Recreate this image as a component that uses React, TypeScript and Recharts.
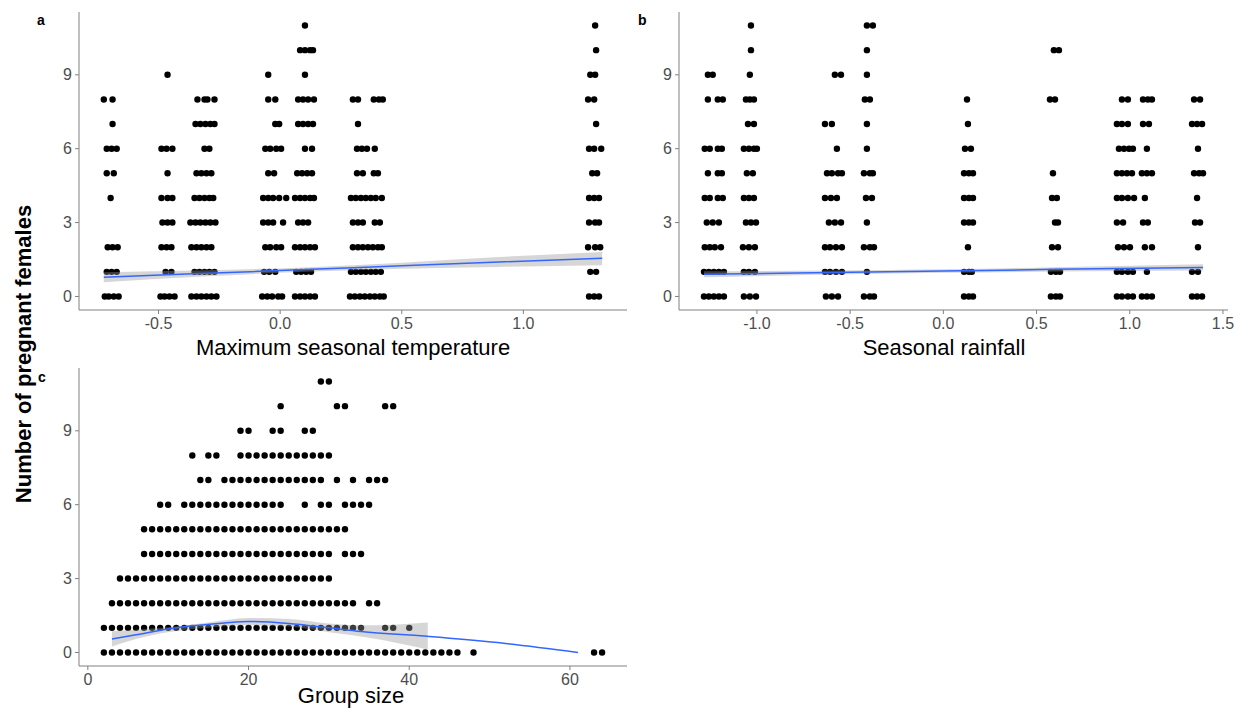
import { ComposedChart, Scatter, Line, Area, XAxis, YAxis } from "recharts";

// panel a: number of pregnant females (y) against jittered max seasonal temperature (x)
const tempRows: [number, number[]][] = [
  [11, [0.102, 1.295]],
  [10, [0.082, 0.102, 0.123, 0.135, 1.299]],
  [9, [-0.463, -0.049, 0.102, 1.275, 1.295]],
  [8, [-0.725, -0.689, -0.34, -0.311, -0.299, -0.27, -0.049, -0.02, 0.074, 0.094, 0.115, 0.139, 0.299, 0.32, 0.385, 0.406, 0.422, 1.266, 1.291]],
  [7, [-0.689, -0.348, -0.328, -0.307, -0.287, -0.27, -0.02, -0.004, 0.074, 0.094, 0.115, 0.135, 0.32, 1.299]],
  [6, [-0.713, -0.693, -0.672, -0.488, -0.467, -0.443, -0.311, -0.291, -0.061, -0.041, -0.016, 0.004, 0.102, 0.131, 0.316, 0.336, 0.357, 0.389, 1.27, 1.291, 1.32]],
  [5, [-0.713, -0.684, -0.463, -0.344, -0.324, -0.303, -0.283, -0.049, -0.025, 0.07, 0.09, 0.111, 0.131, 0.316, 0.34, 0.385, 0.402, 1.283, 1.303]],
  [4, [-0.697, -0.488, -0.463, -0.443, -0.352, -0.332, -0.311, -0.291, -0.275, -0.07, -0.049, -0.029, -0.004, 0.025, 0.061, 0.082, 0.102, 0.123, 0.139, 0.291, 0.311, 0.332, 0.352, 0.373, 0.393, 0.418, 1.27, 1.291, 1.311]],
  [3, [-0.484, -0.463, -0.443, -0.369, -0.348, -0.328, -0.307, -0.287, -0.266, -0.07, -0.049, -0.029, 0.012, 0.074, 0.094, 0.115, 0.299, 0.32, 0.34, 0.389, 0.41, 1.27, 1.295, 1.311]],
  [2, [-0.709, -0.689, -0.668, -0.488, -0.467, -0.447, -0.365, -0.344, -0.324, -0.303, -0.283, -0.061, -0.041, -0.016, 0.004, 0.061, 0.082, 0.102, 0.123, 0.143, 0.299, 0.32, 0.34, 0.361, 0.381, 0.402, 0.418, 1.266, 1.295, 1.316]],
  [1, [-0.713, -0.693, -0.672, -0.471, -0.447, -0.352, -0.332, -0.311, -0.291, -0.27, -0.066, -0.045, -0.02, 0.066, 0.086, 0.107, 0.127, 0.291, 0.311, 0.332, 0.352, 0.373, 0.393, 0.414, 1.275, 1.299]],
  [0, [-0.721, -0.705, -0.684, -0.664, -0.492, -0.475, -0.455, -0.434, -0.365, -0.344, -0.324, -0.303, -0.283, -0.262, -0.074, -0.053, -0.033, -0.008, 0.008, 0.061, 0.082, 0.102, 0.123, 0.143, 0.287, 0.307, 0.328, 0.348, 0.369, 0.389, 0.41, 0.426, 1.27, 1.291, 1.311]],
];
const tempFitX = [-0.725, -0.3, 0.1, 0.5, 0.9, 1.324];
const tempFit = [0.78, 0.94, 1.09, 1.25, 1.4, 1.55];
const tempLo = [0.58, 0.82, 1.0, 1.13, 1.2, 1.27];
const tempHi = [0.98, 1.06, 1.18, 1.37, 1.6, 1.8];

// panel b: seasonal rainfall
const rainRows: [number, number[]][] = [
  [11, [-1.032, -0.41, -0.378]],
  [10, [-1.032, -0.41, 0.593, 0.62]],
  [9, [-1.263, -1.237, -1.038, -0.582, -0.549, -0.41]],
  [8, [-1.263, -1.21, -1.183, -1.059, -1.038, -1.016, -0.421, -0.394, 0.127, 0.572, 0.599, 0.958, 0.99, 1.071, 1.097, 1.119, 1.345, 1.377]],
  [7, [-1.048, -1.016, -0.635, -0.598, -0.41, 0.132, 0.931, 0.958, 0.99, 1.071, 1.103, 1.334, 1.361, 1.388]],
  [6, [-1.28, -1.253, -1.21, -1.188, -1.07, -1.043, -1.016, -1.0, -0.571, -0.41, 0.116, 0.148, 0.942, 0.969, 0.996, 1.017, 1.092, 1.366]],
  [5, [-1.263, -1.21, -1.188, -1.054, -1.022, -0.624, -0.598, -0.565, -0.544, -0.426, -0.394, -0.378, 0.111, 0.137, 0.159, 0.588, 0.931, 0.958, 0.985, 1.012, 1.065, 1.092, 1.119, 1.345, 1.372, 1.393]],
  [4, [-1.28, -1.253, -1.21, -1.183, -1.07, -1.043, -1.016, -0.635, -0.603, -0.571, -0.415, -0.383, 0.111, 0.137, 0.159, 0.583, 0.609, 0.931, 0.958, 0.99, 1.023, 1.081, 1.361]],
  [3, [-1.269, -1.237, -1.204, -1.059, -1.032, -1.005, -0.614, -0.582, -0.549, -0.41, 0.111, 0.137, 0.159, 0.599, 0.615, 0.931, 0.964, 1.071, 1.097, 1.35, 1.377]],
  [2, [-1.28, -1.253, -1.226, -1.193, -1.075, -1.043, -1.011, -0.635, -0.608, -0.576, -0.544, -0.426, -0.394, -0.372, 0.132, 0.583, 0.615, 0.937, 0.969, 1.001, 1.081, 1.119, 1.366]],
  [1, [-1.284, -1.258, -1.231, -1.204, -1.177, -1.07, -1.043, -1.011, -0.635, -0.608, -0.576, -0.544, -0.41, 0.111, 0.137, 0.153, 0.577, 0.604, 0.626, 0.931, 0.958, 0.99, 1.017, 1.092, 1.334, 1.366]],
  [0, [-1.284, -1.258, -1.231, -1.204, -1.177, -1.07, -1.038, -1.005, -0.63, -0.598, -0.565, -0.426, -0.394, -0.372, 0.111, 0.137, 0.159, 0.577, 0.604, 0.626, 0.931, 0.958, 0.99, 1.017, 1.065, 1.092, 1.119, 1.334, 1.361, 1.388]],
];
const rainFitX = [-1.284, -0.6, 0, 0.6, 1.393];
const rainFit = [0.9, 0.97, 1.03, 1.1, 1.18];
const rainLo = [0.78, 0.89, 0.96, 1.01, 1.05];
const rainHi = [1.02, 1.05, 1.1, 1.19, 1.31];

// panel c: group size
const groupRows: [number, number[]][] = [
  [11, [29, 30]],
  [10, [24, 31, 32, 37, 38]],
  [9, [19, 20, 23, 24, 27, 28]],
  [8, [13, 15, 16, 19, 20, 21, 22, 23, 24, 25, 26, 27, 28, 29, 30]],
  [7, [14, 15, 17, 18, 19, 20, 21, 22, 23, 24, 25, 26, 27, 28, 29, 31, 33, 35, 36, 37]],
  [6, [9, 10, 12, 13, 14, 15, 16, 17, 18, 19, 20, 21, 22, 23, 24, 27, 29, 30, 32, 33, 34, 35]],
  [5, [7, 8, 9, 10, 11, 12, 13, 14, 15, 16, 17, 18, 19, 20, 21, 22, 23, 24, 25, 26, 27, 28, 29, 30, 31, 32]],
  [4, [7, 8, 9, 10, 11, 12, 13, 14, 15, 16, 17, 18, 19, 20, 21, 22, 23, 24, 25, 26, 27, 28, 29, 30, 32, 33, 34]],
  [3, [4, 5, 6, 7, 8, 9, 10, 11, 12, 13, 14, 15, 16, 17, 18, 19, 20, 21, 22, 23, 24, 25, 26, 27, 28, 29, 30]],
  [2, [3, 4, 5, 6, 7, 8, 9, 10, 11, 12, 13, 14, 15, 16, 17, 18, 19, 20, 21, 22, 23, 24, 25, 26, 27, 28, 29, 30, 31, 32, 33, 35, 36]],
  [1, [2, 3, 4, 5, 6, 7, 8, 9, 10, 11, 12, 13, 14, 15, 16, 17, 18, 19, 20, 21, 22, 23, 24, 25, 26, 27, 28, 29, 30, 31, 32, 33, 34, 37, 38, 40]],
  [0, [2, 3, 4, 5, 6, 7, 8, 9, 10, 11, 12, 13, 14, 15, 16, 17, 18, 19, 20, 21, 22, 23, 24, 25, 26, 27, 28, 29, 30, 31, 32, 33, 34, 35, 36, 37, 38, 39, 40, 41, 42, 43, 44, 45, 46, 48, 63, 64]],
];
const groupFitX = [3, 6, 10, 13, 17, 20, 25, 30, 34, 42.5, 51, 61];
const groupFit = [0.55, 0.72, 0.95, 1.08, 1.2, 1.26, 1.18, 1.0, 0.85, 0.65, 0.4, 0.0];
const groupBandX = [3, 6, 10, 15, 20, 25, 30, 35, 42.3];
const groupLo = [0.24, 0.55, 0.82, 1.0, 1.1, 1.05, 0.82, 0.6, 0.12];
const groupHi = [0.86, 0.92, 1.02, 1.22, 1.4, 1.36, 1.18, 1.1, 1.22];

const yTicks = [0, 3, 6, 9];

const axisColor = "#808080";
const tickStyle = { fill: "#4d4d4d", fontSize: 16, fontFamily: "Liberation Sans, Arial, sans-serif" };

const Dot = (p: any) => <circle cx={p.cx} cy={p.cy} r={3.2} fill="#000" />;

type PanelProps = {
  left: number; top: number; width: number; height: number;
  margin: { top: number; right: number; bottom: number; left: number };
  rows: [number, number[]][];
  fitX: number[]; fit: number[];
  bandX: number[]; lo: number[]; hi: number[];
  xDomain: [number, number]; xTicks: number[]; decimals: number;
  xAxisHeight: number;
};

function Panel(props: PanelProps) {
  const points = props.rows.flatMap(([y, xs]) => xs.map((x) => ({ x, y })));
  const fitData = props.fitX.map((x, i) => ({ x, fit: props.fit[i] }));
  const bandData = props.bandX.map((x, i) => ({ x, band: [props.lo[i], props.hi[i]] }));
  return (
    <div style={{ position: "absolute", left: props.left, top: props.top }}>
      <ComposedChart width={props.width} height={props.height} margin={props.margin}>
        <XAxis
          type="number"
          dataKey="x"
          domain={props.xDomain}
          ticks={props.xTicks}
          allowDataOverflow
          tickFormatter={(v: number) => v.toFixed(props.decimals)}
          height={props.xAxisHeight}
          tick={tickStyle}
          tickSize={4}
          tickMargin={4}
          stroke={axisColor}
          tickLine={{ stroke: axisColor }}
        />
        <YAxis
          type="number"
          dataKey="y"
          domain={[-0.55, 11.55]}
          ticks={yTicks}
          allowDataOverflow
          width={79}
          tick={tickStyle}
          tickSize={4}
          tickMargin={3}
          stroke={axisColor}
          tickLine={{ stroke: axisColor }}
        />
        <Scatter data={points} shape={Dot} isAnimationActive={false} />
        <Area
          data={bandData}
          dataKey="band"
          type="monotone"
          stroke="none"
          fill="#999999"
          fillOpacity={0.4}
          dot={false}
          activeDot={false}
          isAnimationActive={false}
          zIndex={650}
        />
        <Line
          data={fitData}
          dataKey="fit"
          type="monotone"
          stroke="#3366FF"
          strokeWidth={1.5}
          dot={false}
          activeDot={false}
          isAnimationActive={false}
          zIndex={700}
        />
      </ComposedChart>
    </div>
  );
}

export default function App() {
  const font = "Liberation Sans, Arial, sans-serif";
  return (
    <div style={{ position: "absolute", left: 0, top: 0, width: 1238, height: 710, background: "#fff", overflow: "hidden" }}>
      <Panel
        left={0} top={0} width={640} height={360}
        margin={{ top: 12, right: 13, bottom: 0, left: 0 }}
        rows={tempRows} fitX={tempFitX} fit={tempFit} bandX={tempFitX} lo={tempLo} hi={tempHi}
        xDomain={[-0.827, 1.426]} xTicks={[-0.5, 0, 0.5, 1.0]} decimals={1} xAxisHeight={50}
      />
      <Panel
        left={600} top={0} width={638} height={360}
        margin={{ top: 12, right: 10, bottom: 0, left: 0 }}
        rows={rainRows} fitX={rainFitX} fit={rainFit} bandX={rainFitX} lo={rainLo} hi={rainHi}
        xDomain={[-1.418, 1.527]} xTicks={[-1.0, -0.5, 0, 0.5, 1.0, 1.5]} decimals={1} xAxisHeight={50}
      />
      <Panel
        left={0} top={356} width={640} height={354}
        margin={{ top: 12, right: 13, bottom: 0, left: 0 }}
        rows={groupRows} fitX={groupFitX} fit={groupFit} bandX={groupBandX} lo={groupLo} hi={groupHi}
        xDomain={[-1.1, 67.1]} xTicks={[0, 20, 40, 60]} decimals={0} xAxisHeight={44}
      />
      <svg width={1238} height={710} style={{ position: "absolute", left: 0, top: 0, pointerEvents: "none" }}>
        <g fontFamily={font}>
          <text x={37} y={25} fontSize={14} fontWeight="bold" fill="#000">a</text>
          <text x={638} y={25} fontSize={14} fontWeight="bold" fill="#000">b</text>
          <text x={38} y={382} fontSize={14} fontWeight="bold" fill="#000">c</text>
          <text x={353} y={355} fontSize={22} textAnchor="middle" fill="#000">Maximum seasonal temperature</text>
          <text x={944} y={355} fontSize={22} textAnchor="middle" fill="#000">Seasonal rainfall</text>
          <text x={351} y={703} fontSize={22} textAnchor="middle" fill="#000">Group size</text>
          <text x={31} y={354} fontSize={22} fontWeight="bold" textAnchor="middle" fill="#000" transform="rotate(-90 31 354)">
            Number of pregnant females
          </text>
        </g>
      </svg>
    </div>
  );
}
